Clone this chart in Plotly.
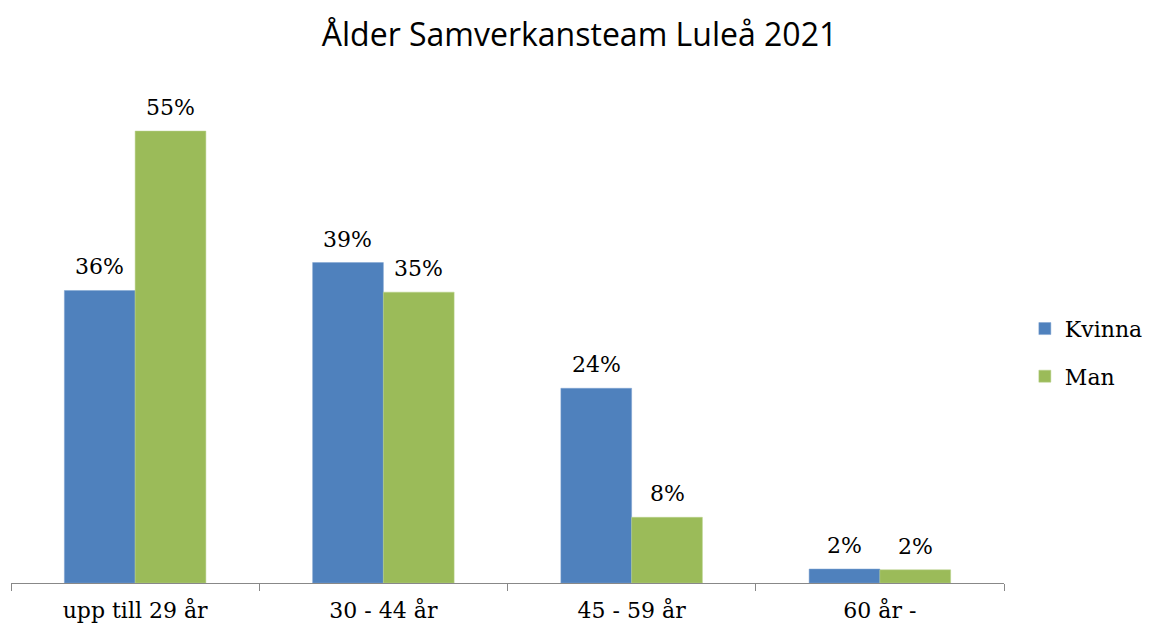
import plotly.graph_objects as go

categories = ["upp till 29 år", "30 - 44 år", "45 - 59 år", "60 år -"]
kvinna = [35.6, 39.0, 23.7, 1.7]
man = [55.0, 35.4, 8.0, 1.6]

serif = "DejaVu Serif"
label_font = dict(family=serif, size=22, color="black")

fig = go.Figure()
fig.add_trace(go.Bar(
    x=categories, y=kvinna, name="Kvinna", legendgroup="k",
    marker=dict(color="#4F81BD", line=dict(color="#7FA3D1", width=0.5)),
))
fig.add_trace(go.Bar(
    x=categories, y=man, name="Man", legendgroup="m",
    marker=dict(color="#9BBB59", line=dict(color="#B9D08A", width=0.5)),
))

# value labels above bars (positioned through the axis scales)
for series, shift in ((kvinna, -35.5), (man, 35.5)):
    for cat, val in zip(categories, series):
        fig.add_annotation(
            x=cat, y=val, xref="x", yref="y", text=f"{val:.0f}%",
            showarrow=False, xshift=shift, yshift=9, yanchor="bottom",
            font=label_font,
        )

fig.update_layout(
    width=1143, height=625,
    paper_bgcolor="white", plot_bgcolor="white",
    margin=dict(l=3, r=138, t=82, b=50),
    barmode="group", bargap=0.43, bargroupgap=0,
    title=dict(text="Ålder Samverkansteam Luleå 2021", x=0.5, xanchor="center",
               xref="container", yref="container", y=0.957, yanchor="middle",
               font=dict(family="Open Sans", size=32, color="black")),
    legend=dict(x=1.021, xanchor="left", y=0.467, yanchor="middle",
                font=label_font, itemwidth=30, tracegroupgap=16),
    showlegend=True,
)
fig.update_xaxes(
    showline=True, linecolor="#888888", linewidth=1,
    ticks="outside", tickson="boundaries", ticklen=7, tickcolor="#888888",
    tickfont=label_font, ticklabelstandoff=8,
    showgrid=False,
)
fig.update_yaxes(
    range=[0, 60], visible=False, showgrid=False, zeroline=False,
)

fig.write_html("out.html")
